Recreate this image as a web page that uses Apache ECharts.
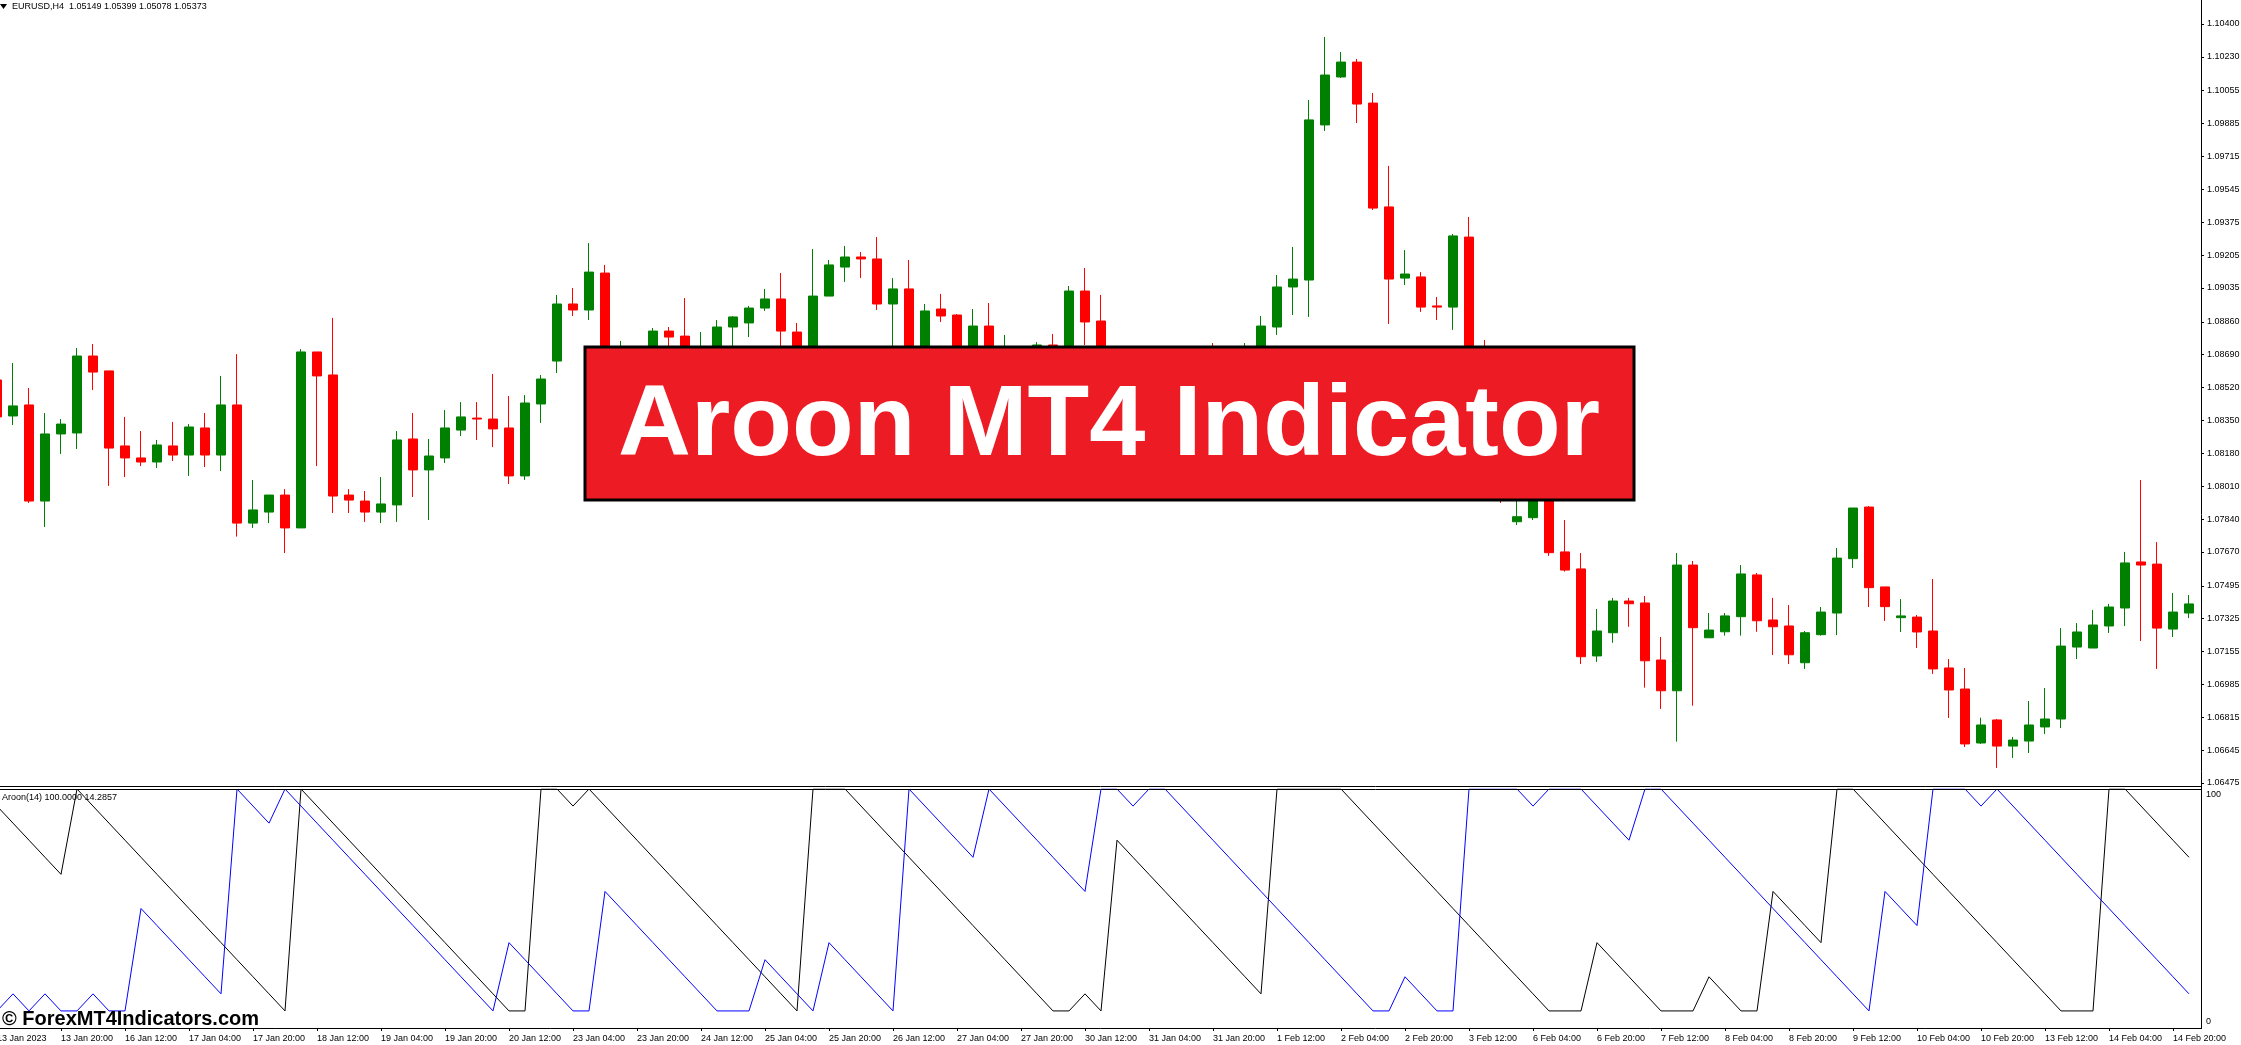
<!DOCTYPE html>
<html>
<head>
<meta charset="utf-8">
<script src="https://cdn.jsdelivr.net/npm/echarts@6/dist/echarts.min.js"></script>
<style>
  html, body { margin: 0; padding: 0; background: #fff; }
  #chart { width: 2241px; height: 1045px; }
</style>
</head>
<body>
<div id="chart"></div>
<script>
// EURUSD H4 bars, 13 Jan 04:00 .. 15 Feb 00:00
const opens = [
  1.08559, 1.08373, 1.08430, 1.07933, 1.08280, 1.08285, 1.08683, 1.08606, 1.08218, 1.08156,
  1.08135, 1.08218, 1.08171, 1.08311, 1.08171, 1.08430, 1.07819, 1.07876, 1.07964, 1.07794,
  1.08704, 1.08585, 1.07964, 1.07933, 1.07876, 1.07913, 1.08254, 1.08094, 1.08156, 1.08300,
  1.08362, 1.08357, 1.08311, 1.08063, 1.08435, 1.08657, 1.08952, 1.08921, 1.09112, 1.08559,
  1.08704, 1.08662, 1.08812, 1.08786, 1.08637, 1.08704, 1.08833, 1.08854, 1.08931, 1.08978,
  1.08807, 1.08662, 1.08993, 1.09143, 1.09195, 1.09185, 1.08952, 1.09030, 1.08559, 1.08926,
  1.08895, 1.08735, 1.08838, 1.08481, 1.08611, 1.08559, 1.08740, 1.08662, 1.09019, 1.08864,
  1.08456, 1.08300, 1.08404, 1.08223, 1.08352, 1.08456, 1.08533, 1.08507, 1.08611, 1.08704,
  1.08833, 1.09040, 1.09076, 1.09878, 1.10126, 1.10203, 1.09991, 1.09454, 1.09086, 1.09092,
  1.08942, 1.08936, 1.09298, 1.08352, 1.08094, 1.07826, 1.07847, 1.07964, 1.07670, 1.07582,
  1.07132, 1.07252, 1.07416, 1.07406, 1.07111, 1.06952, 1.07602, 1.07226, 1.07257, 1.07335,
  1.07551, 1.07318, 1.07287, 1.07097, 1.07242, 1.07354, 1.07635, 1.07902, 1.07489, 1.07330,
  1.07333, 1.07261, 1.07070, 1.06961, 1.06682, 1.06801, 1.06666, 1.06692, 1.06765, 1.06806,
  1.07178, 1.07173, 1.07287, 1.07380, 1.07618, 1.07607, 1.07271, 1.07354
];
const highs = [
  1.08600, 1.08647, 1.08518, 1.08388, 1.08357, 1.08724, 1.08745, 1.08606, 1.08368, 1.08295,
  1.08249, 1.08342, 1.08331, 1.08388, 1.08580, 1.08693, 1.08042, 1.07964, 1.07995, 1.08719,
  1.08704, 1.08880, 1.07995, 1.07985, 1.08057, 1.08295, 1.08388, 1.08254, 1.08404, 1.08445,
  1.08445, 1.08590, 1.08476, 1.08481, 1.08585, 1.08999, 1.09035, 1.09267, 1.09154, 1.08761,
  1.08719, 1.08828, 1.08833, 1.08983, 1.08807, 1.08869, 1.08890, 1.08942, 1.09030, 1.09112,
  1.08854, 1.09236, 1.09180, 1.09252, 1.09221, 1.09298, 1.09086, 1.09180, 1.08952, 1.09004,
  1.08900, 1.08926, 1.08957, 1.08792, 1.08688, 1.08755, 1.08797, 1.09045, 1.09138, 1.08999,
  1.08481, 1.08456, 1.08430, 1.08378, 1.08497, 1.08600, 1.08750, 1.08714, 1.08750, 1.08890,
  1.09102, 1.09247, 1.10007, 1.10333, 1.10255, 1.10219, 1.10043, 1.09666, 1.09231, 1.09117,
  1.08988, 1.09314, 1.09402, 1.08766, 1.08145, 1.07964, 1.08016, 1.08000, 1.07835, 1.07664,
  1.07375, 1.07432, 1.07432, 1.07442, 1.07230, 1.07664, 1.07623, 1.07354, 1.07354, 1.07602,
  1.07561, 1.07432, 1.07395, 1.07261, 1.07385, 1.07690, 1.07897, 1.07907, 1.07489, 1.07426,
  1.07344, 1.07530, 1.07116, 1.07070, 1.06813, 1.06806, 1.06713, 1.06899, 1.06966, 1.07276,
  1.07302, 1.07370, 1.07401, 1.07670, 1.08042, 1.07721, 1.07458, 1.07447
];
const lows = [
  1.08326, 1.08326, 1.07923, 1.07799, 1.08176, 1.08202, 1.08507, 1.08011, 1.08057, 1.08114,
  1.08104, 1.08140, 1.08063, 1.08109, 1.08088, 1.07749, 1.07794, 1.07819, 1.07664, 1.07794,
  1.08114, 1.07871, 1.07871, 1.07825, 1.07819, 1.07825, 1.07954, 1.07835, 1.08130, 1.08269,
  1.08249, 1.08212, 1.08021, 1.08042, 1.08337, 1.08595, 1.08890, 1.08869, 1.08481, 1.08481,
  1.08600, 1.08621, 1.08704, 1.08585, 1.08611, 1.08662, 1.08735, 1.08781, 1.08916, 1.08688,
  1.08611, 1.08600, 1.08993, 1.09066, 1.09086, 1.08921, 1.08637, 1.08456, 1.08497, 1.08859,
  1.08704, 1.08688, 1.08404, 1.08430, 1.08481, 1.08533, 1.08662, 1.08637, 1.08740, 1.08352,
  1.08249, 1.08259, 1.08171, 1.08119, 1.08300, 1.08404, 1.08456, 1.08466, 1.08559, 1.08662,
  1.08792, 1.08895, 1.08885, 1.09847, 1.10121, 1.09888, 1.09438, 1.08849, 1.09050, 1.08911,
  1.08869, 1.08818, 1.08249, 1.08042, 1.07923, 1.07809, 1.07835, 1.07649, 1.07568, 1.07090,
  1.07101, 1.07200, 1.07283, 1.06968, 1.06858, 1.06689, 1.06875, 1.07226, 1.07237, 1.07237,
  1.07257, 1.07137, 1.07090, 1.07065, 1.07237, 1.07240, 1.07587, 1.07385, 1.07313, 1.07256,
  1.07173, 1.07039, 1.06811, 1.06661, 1.06677, 1.06553, 1.06604, 1.06630, 1.06728, 1.06759,
  1.07116, 1.07173, 1.07251, 1.07287, 1.07209, 1.07065, 1.07230, 1.07328
];
const closes = [
  1.08368, 1.08425, 1.07933, 1.08280, 1.08331, 1.08683, 1.08600, 1.08207, 1.08156, 1.08135,
  1.08223, 1.08171, 1.08316, 1.08171, 1.08430, 1.07819, 1.07887, 1.07964, 1.07794, 1.08704,
  1.08580, 1.07959, 1.07938, 1.07876, 1.07918, 1.08249, 1.08094, 1.08166, 1.08311, 1.08368,
  1.08357, 1.08306, 1.08063, 1.08440, 1.08564, 1.08952, 1.08921, 1.09117, 1.08559, 1.08714,
  1.08662, 1.08812, 1.08781, 1.08637, 1.08714, 1.08833, 1.08885, 1.08931, 1.08978, 1.08812,
  1.08662, 1.08993, 1.09154, 1.09195, 1.09185, 1.08952, 1.09030, 1.08559, 1.08916, 1.08890,
  1.08735, 1.08838, 1.08481, 1.08611, 1.08559, 1.08740, 1.08714, 1.09019, 1.08859, 1.08456,
  1.08300, 1.08404, 1.08223, 1.08352, 1.08456, 1.08533, 1.08507, 1.08611, 1.08704, 1.08838,
  1.09040, 1.09081, 1.09904, 1.10136, 1.10203, 1.09986, 1.09448, 1.09081, 1.09107, 1.08936,
  1.08936, 1.09304, 1.08352, 1.08094, 1.07964, 1.07852, 1.07990, 1.07666, 1.07576, 1.07128,
  1.07261, 1.07416, 1.07402, 1.07107, 1.06952, 1.07602, 1.07278, 1.07266, 1.07339, 1.07556,
  1.07314, 1.07283, 1.07138, 1.07252, 1.07359, 1.07638, 1.07897, 1.07485, 1.07387, 1.07339,
  1.07256, 1.07065, 1.06956, 1.06677, 1.06775, 1.06666, 1.06697, 1.06775, 1.06806, 1.07183,
  1.07256, 1.07292, 1.07385, 1.07613, 1.07602, 1.07276, 1.07359, 1.07401
];

// Aroon(14) lines, per bar
const aroonUp = [
  92.86, 85.71, 78.57, 71.43, 64.29, 100, 92.86, 85.71, 78.57, 71.43,
  64.29, 57.14, 50, 42.86, 35.71, 28.57, 21.43, 14.29, 7.14, 100,
  92.86, 85.71, 78.57, 71.43, 64.29, 57.14, 50, 42.86, 35.71, 28.57,
  21.43, 14.29, 7.14, 7.14, 100, 100, 92.86, 100, 92.86, 85.71,
  78.57, 71.43, 64.29, 57.14, 50, 42.86, 35.71, 28.57, 21.43, 14.29,
  7.14, 100, 100, 100, 92.86, 85.71, 78.57, 71.43, 64.29, 57.14,
  50, 42.86, 35.71, 28.57, 21.43, 14.29, 7.14, 7.14, 14.29, 7.14,
  78.57, 71.43, 64.29, 57.14, 50, 42.86, 35.71, 28.57, 21.43, 14.29,
  100, 100, 100, 100, 100, 92.86, 85.71, 78.57, 71.43, 64.29,
  57.14, 50, 42.86, 35.71, 28.57, 21.43, 14.29, 7.14, 7.14, 7.14,
  35.71, 28.57, 21.43, 14.29, 7.14, 7.14, 7.14, 21.43, 14.29, 7.14,
  7.14, 57.14, 50, 42.86, 35.71, 100, 100, 92.86, 85.71, 78.57,
  71.43, 64.29, 57.14, 50, 42.86, 35.71, 28.57, 21.43, 14.29, 7.14,
  7.14, 7.14, 100, 100, 92.86, 85.71, 78.57, 71.43
];
const aroonDown = [
  7.14, 14.29, 7.14, 14.29, 7.14, 7.14, 14.29, 7.14, 7.14, 50,
  42.86, 35.71, 28.57, 21.43, 14.29, 100, 92.86, 85.71, 100, 92.86,
  85.71, 78.57, 71.43, 64.29, 57.14, 50, 42.86, 35.71, 28.57, 21.43,
  14.29, 7.14, 35.71, 28.57, 21.43, 14.29, 7.14, 7.14, 57.14, 50,
  42.86, 35.71, 28.57, 21.43, 14.29, 7.14, 7.14, 7.14, 28.57, 21.43,
  14.29, 7.14, 35.71, 28.57, 21.43, 14.29, 7.14, 100, 92.86, 85.71,
  78.57, 71.43, 100, 92.86, 85.71, 78.57, 71.43, 64.29, 57.14, 100,
  100, 92.86, 100, 100, 92.86, 85.71, 78.57, 71.43, 64.29, 57.14,
  50, 42.86, 35.71, 28.57, 21.43, 14.29, 7.14, 7.14, 21.43, 14.29,
  7.14, 7.14, 100, 100, 100, 100, 92.86, 100, 100, 100,
  92.86, 85.71, 78.57, 100, 100, 92.86, 85.71, 78.57, 71.43, 64.29,
  57.14, 50, 42.86, 35.71, 28.57, 21.43, 14.29, 7.14, 57.14, 50,
  42.86, 100, 100, 100, 92.86, 100, 92.86, 85.71, 78.57, 71.43,
  64.29, 57.14, 50, 42.86, 35.71, 28.57, 21.43, 14.29
];

// scale labels
const priceTicks = [
  1.06475, 1.06645, 1.06815, 1.06985, 1.07155, 1.07325, 1.07495, 1.07670,
  1.07840, 1.08010, 1.08180, 1.08350, 1.08520, 1.08690, 1.08860, 1.09035,
  1.09205, 1.09375, 1.09545, 1.09715, 1.09885, 1.10055, 1.10230, 1.10400
];
const timeLabels = [
  '13 Jan 2023', '13 Jan 20:00', '16 Jan 12:00', '17 Jan 04:00', '17 Jan 20:00',
  '18 Jan 12:00', '19 Jan 04:00', '19 Jan 20:00', '20 Jan 12:00', '23 Jan 04:00',
  '23 Jan 20:00', '24 Jan 12:00', '25 Jan 04:00', '25 Jan 20:00', '26 Jan 12:00',
  '27 Jan 04:00', '27 Jan 20:00', '30 Jan 12:00', '31 Jan 04:00', '31 Jan 20:00',
  '1 Feb 12:00', '2 Feb 04:00', '2 Feb 20:00', '3 Feb 12:00', '6 Feb 04:00',
  '6 Feb 20:00', '7 Feb 12:00', '8 Feb 04:00', '8 Feb 20:00', '9 Feb 12:00',
  '10 Feb 04:00', '10 Feb 20:00', '13 Feb 12:00', '14 Feb 04:00', '14 Feb 20:00'
];

const font = '"Liberation Sans", Arial, sans-serif';
const bars = opens.map((_, i) => String(i));
const candles = opens.map((o, i) => [o, closes[i], lows[i], highs[i]]);

const chart = echarts.init(document.getElementById('chart'));

const hLine = (x1, x2, y) => ({
  type: 'line', silent: true, z: 50,
  shape: { x1: x1, y1: y, x2: x2, y2: y },
  style: { stroke: '#000', lineWidth: 1 }
});

chart.setOption({
  animation: false,
  backgroundColor: '#ffffff',
  grid: [
    { left: -11, top: 0, width: 2208, height: 786, containLabel: false, outerBoundsMode: 'none' },
    { left: -11, top: 789, width: 2208, height: 239, containLabel: false, outerBoundsMode: 'none' }
  ],
  xAxis: [
    { type: 'category', gridIndex: 0, data: bars, show: false },
    {
      type: 'category', gridIndex: 1, data: bars,
      axisLine: { show: false },
      axisTick: { show: true, interval: 3, alignWithLabel: true, length: 3, lineStyle: { color: '#000' } },
      axisLabel: {
        interval: 3, align: 'left', margin: 6, fontSize: 9, fontFamily: font, color: '#000',
        formatter: (v, i) => timeLabels[i / 4]
      },
      splitLine: { show: false }
    }
  ],
  yAxis: [
    {
      type: 'value', gridIndex: 0, position: 'right', offset: 4,
      min: 1.064595, max: 1.10524,
      axisLine: { show: false },
      axisTick: { show: true, customValues: priceTicks, length: 3, lineStyle: { color: '#000' } },
      axisLabel: {
        customValues: priceTicks, margin: 6, fontSize: 9, fontFamily: font, color: '#000',
        formatter: v => v.toFixed(5)
      },
      splitLine: { show: false }
    },
    {
      type: 'value', gridIndex: 1, position: 'right', offset: 4,
      min: 0, max: 100,
      axisLine: { show: false },
      axisTick: { show: false },
      axisLabel: {
        customValues: [0, 100], margin: 5,
        formatter: v => (v >= 100 ? '{t|100}' : '{b|0}'),
        rich: {
          t: { fontSize: 9, fontFamily: font, color: '#000', padding: [12, 0, 0, 0] },
          b: { fontSize: 9, fontFamily: font, color: '#000', padding: [0, 0, 12, 0] }
        }
      },
      splitLine: { show: false }
    }
  ],
  series: [
    {
      type: 'candlestick', xAxisIndex: 0, yAxisIndex: 0,
      data: candles, barWidth: 10,
      itemStyle: {
        color: '#008000', color0: '#ff0000',
        borderColor: '#008000', borderColor0: '#ff0000', borderWidth: 1
      }
    },
    {
      type: 'line', name: 'Aroon Up', xAxisIndex: 1, yAxisIndex: 1,
      data: aroonUp, symbol: 'none', color: '#000',
      lineStyle: { color: '#000000', width: 1 }
    },
    {
      type: 'line', name: 'Aroon Down', xAxisIndex: 1, yAxisIndex: 1,
      data: aroonDown, symbol: 'none', color: '#0000ff',
      lineStyle: { color: '#0000ff', width: 1 }
    }
  ],
  graphic: [
    hLine(0, 2201, 786.5),
    hLine(0, 2201, 789.5),
    hLine(0, 2201, 1028.5),
    {
      type: 'line', silent: true, z: 50,
      shape: { x1: 2201.5, y1: 0, x2: 2201.5, y2: 1029 },
      style: { stroke: '#000', lineWidth: 1 }
    },
    {
      type: 'polygon', silent: true, z: 50,
      shape: { points: [[0, 4], [7, 4], [3.5, 9]] },
      style: { fill: '#000' }
    },
    {
      type: 'text', silent: true, z: 50, x: 12, y: 7,
      style: {
        text: 'EURUSD,H4  1.05149 1.05399 1.05078 1.05373',
        font: '9px ' + font, fill: '#000',
        textVerticalAlign: 'middle', verticalAlign: 'middle'
      }
    },
    {
      type: 'text', silent: true, z: 50, x: 2, y: 798,
      style: {
        text: 'Aroon(14) 100.0000 14.2857',
        font: '9px ' + font, fill: '#000',
        textVerticalAlign: 'middle', verticalAlign: 'middle'
      }
    },
    {
      type: 'text', silent: true, z: 60, x: 2, y: 1019,
      style: {
        text: '\u00a9 ForexMT4Indicators.com',
        font: 'bold 20px ' + font, fill: '#000',
        textVerticalAlign: 'middle', verticalAlign: 'middle'
      }
    },
    {
      type: 'rect', silent: true, z: 70,
      shape: { x: 585, y: 347, width: 1049, height: 153 },
      style: { fill: '#ed1c24', stroke: '#000', lineWidth: 3 }
    },
    {
      type: 'text', silent: true, z: 71, x: 1109, y: 427,
      style: {
        text: 'Aroon MT4 Indicator',
        font: 'bold 101px ' + font, fill: '#ffffff',
        textAlign: 'center', align: 'center',
        textVerticalAlign: 'middle', verticalAlign: 'middle'
      }
    }
  ]
});
</script>
</body>
</html>
